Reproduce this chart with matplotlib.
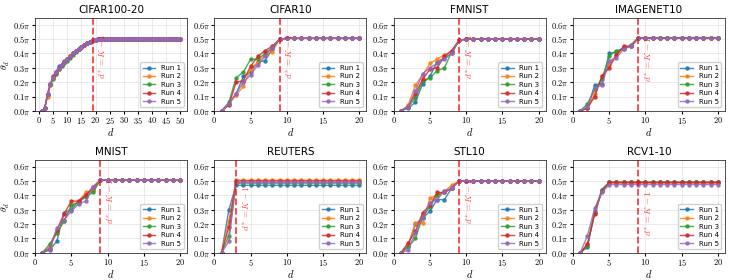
import numpy as np
import matplotlib.pyplot as plt

plt.rcParams['mathtext.fontset'] = 'cm'

# values in units of pi, one list per run (5 runs)
titles = ['CIFAR100-20', 'CIFAR10', 'FMNIST', 'IMAGENET10',
          'MNIST', 'REUTERS', 'STL10', 'RCV1-10']
max_d = [50, 20, 20, 20, 20, 20, 20, 20]
d_star = [19, 9, 9, 9, 9, 3, 9, 9]

cifar100 = [
    [0, 0.02, 0.11, 0.18, 0.23, 0.27, 0.31, 0.32, 0.345, 0.36, 0.385, 0.40, 0.415, 0.43, 0.445, 0.46, 0.47, 0.48, 0.49, 0.495],
    [0, 0.02, 0.10, 0.18, 0.23, 0.26, 0.29, 0.32, 0.34, 0.36, 0.38, 0.40, 0.415, 0.43, 0.445, 0.46, 0.47, 0.48, 0.49, 0.495],
    [0, 0.02, 0.12, 0.19, 0.22, 0.26, 0.29, 0.31, 0.33, 0.35, 0.37, 0.39, 0.41, 0.43, 0.445, 0.46, 0.47, 0.48, 0.49, 0.495],
    [0, 0.02, 0.12, 0.19, 0.24, 0.27, 0.30, 0.32, 0.34, 0.36, 0.38, 0.40, 0.415, 0.43, 0.445, 0.46, 0.47, 0.48, 0.49, 0.495],
    [0, 0.02, 0.12, 0.19, 0.23, 0.27, 0.30, 0.32, 0.34, 0.36, 0.38, 0.40, 0.415, 0.43, 0.445, 0.46, 0.47, 0.48, 0.49, 0.495],
]
cifar10 = [
    [0, 0.05, 0.12, 0.24, 0.27, 0.34, 0.35, 0.43, 0.50],
    [0, 0.05, 0.11, 0.17, 0.29, 0.34, 0.39, 0.41, 0.50],
    [0, 0.06, 0.23, 0.27, 0.36, 0.36, 0.40, 0.44, 0.50],
    [0, 0.04, 0.20, 0.21, 0.31, 0.38, 0.42, 0.45, 0.50],
    [0, 0.05, 0.12, 0.20, 0.25, 0.32, 0.38, 0.44, 0.50],
]
fmnist = [
    [0, 0.02, 0.06, 0.19, 0.24, 0.34, 0.37, 0.40, 0.49],
    [0, 0.04, 0.18, 0.25, 0.33, 0.36, 0.39, 0.41, 0.49],
    [0, 0.03, 0.09, 0.21, 0.23, 0.28, 0.30, 0.41, 0.49],
    [0, 0.03, 0.12, 0.22, 0.29, 0.30, 0.38, 0.42, 0.49],
    [0, 0.03, 0.14, 0.26, 0.30, 0.33, 0.36, 0.40, 0.49],
]
imagenet10 = [
    [0, 0.02, 0.18, 0.19, 0.40, 0.41, 0.44, 0.45, 0.505],
    [0, 0.02, 0.12, 0.24, 0.32, 0.39, 0.44, 0.45, 0.51],
    [0, 0.05, 0.15, 0.22, 0.38, 0.42, 0.43, 0.46, 0.51],
    [0, 0.02, 0.10, 0.24, 0.30, 0.39, 0.45, 0.45, 0.505],
    [0, 0.03, 0.16, 0.18, 0.35, 0.37, 0.43, 0.45, 0.505],
]
mnist = [
    [0, 0.02, 0.08, 0.28, 0.30, 0.36, 0.40, 0.44, 0.505],
    [0, 0.04, 0.14, 0.22, 0.33, 0.36, 0.42, 0.43, 0.505],
    [0, 0.06, 0.14, 0.22, 0.33, 0.35, 0.39, 0.42, 0.505],
    [0, 0.03, 0.16, 0.27, 0.36, 0.36, 0.40, 0.46, 0.505],
    [0, 0.03, 0.17, 0.23, 0.29, 0.34, 0.36, 0.46, 0.505],
]
reuters = [
    [0, 0.30, 0.47],
    [0, 0.22, 0.505],
    [0, 0.12, 0.485],
    [0, 0.18, 0.50],
    [0, 0.08, 0.49],
]
stl10 = [
    [0, 0.05, 0.20, 0.24, 0.29, 0.37, 0.37, 0.45, 0.50],
    [0, 0.05, 0.21, 0.21, 0.38, 0.40, 0.43, 0.47, 0.50],
    [0, 0.04, 0.10, 0.25, 0.32, 0.40, 0.42, 0.45, 0.50],
    [0, 0.07, 0.15, 0.28, 0.33, 0.42, 0.42, 0.45, 0.50],
    [0, 0.02, 0.14, 0.24, 0.35, 0.37, 0.43, 0.45, 0.50],
]
rcv1 = [
    [0, 0.04, 0.29, 0.44, 0.49],
    [0, 0.06, 0.28, 0.43, 0.485],
    [0, 0.05, 0.28, 0.44, 0.49],
    [0, 0.06, 0.27, 0.43, 0.49],
    [0, 0.12, 0.31, 0.42, 0.475],
]
# plateau value each run stays at after the transition
plateau = [
    [0.50] * 5,
    [0.505] * 5,
    [0.50] * 5,
    [0.505, 0.51, 0.51, 0.505, 0.505],
    [0.505] * 5,
    [0.47, 0.505, 0.485, 0.50, 0.49],
    [0.50] * 5,
    [0.49, 0.485, 0.49, 0.49, 0.475],
]
datasets = [cifar100, cifar10, fmnist, imagenet10, mnist, reuters, stl10, rcv1]
text_y = [0.22, 0.22, 0.22, 0.20, 0.20, 0.15, 0.20, 0.12]

colors = ['tab:blue', 'tab:orange', 'tab:green', 'tab:red', 'tab:purple']

fig, axes = plt.subplots(2, 4, figsize=(7.3, 2.8), dpi=100)
fig.subplots_adjust(left=0.048, right=0.993, top=0.935, bottom=0.097,
                    wspace=0.18, hspace=0.53)

for k, ax in enumerate(axes.flat):
    n = max_d[k]
    d = np.arange(1, n + 1)
    for r in range(5):
        head = datasets[k][r]
        y = list(head) + [plateau[k][r]] * (n - len(head))
        ax.plot(d, y, color=colors[r], marker='o', markersize=2.2,
                linewidth=1, alpha=0.85, label='Run %d' % (r + 1))
    ax.axvline(d_star[k], color='red', linestyle='--', linewidth=1.3, alpha=0.75)
    ax.text(d_star[k] + 0.07 * n, text_y[k], r'$d^* = K-1$', rotation=90,
            color='red', alpha=0.7, fontsize=6.5, va='bottom', ha='center')
    ax.set_ylim(0, 0.645)
    ax.set_yticks(np.arange(0, 0.61, 0.1))
    ax.set_yticklabels([r'$%.1f\pi$' % v for v in np.arange(0, 0.61, 0.1)])
    xt = np.arange(0, n + 1, 5)
    ax.set_xticks(xt)
    ax.set_xticklabels([r'$%d$' % v for v in xt])
    ax.tick_params(labelsize=6, length=2, pad=1)
    ax.grid(True, color='#e6e6e6', linewidth=0.6)
    ax.set_axisbelow(True)
    for sp in ax.spines.values():
        sp.set_linewidth(0.6)
        sp.set_color('#333333')
    ax.set_title(titles[k], fontsize=7.5, pad=4)
    ax.set_xlabel(r'$d$', fontsize=7.5, labelpad=0)
    if k % 4 == 0:
        ax.set_ylabel(r'$\bar{\theta}_d$', fontsize=7, labelpad=1)
    ax.legend(loc='lower right', fontsize=5, handlelength=1.8,
              borderpad=0.4, labelspacing=0.35, framealpha=0.9)

fig.savefig('out.png', dpi=100)
